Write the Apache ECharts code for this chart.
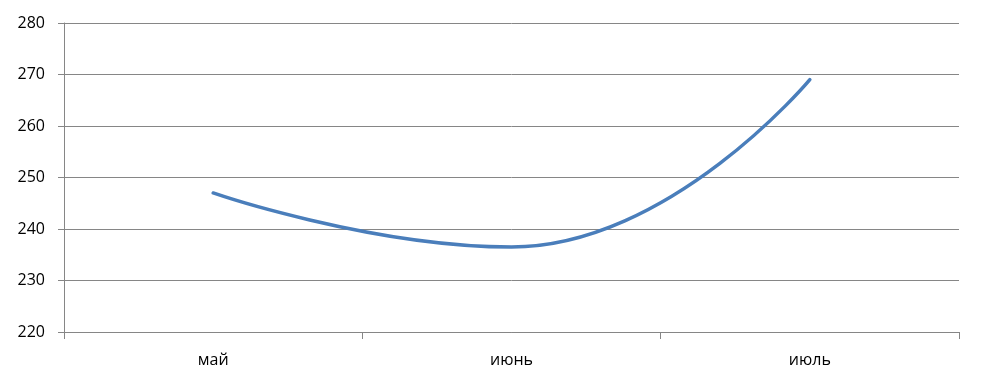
<!DOCTYPE html>
<html>
<head>
<meta charset="utf-8">
<script src="https://cdn.jsdelivr.net/npm/echarts@6/dist/echarts.min.js"></script>
<style>html,body{margin:0;padding:0;background:#fff}#c{width:983px;height:385px}</style>
</head>
<body>
<div id="c"></div>
<script>
const categories = ['май', 'июнь', 'июль'];
const values = [247, 236.5, 269];
const yMin = 220, yMax = 280, yStep = 10;

const chart = echarts.init(document.getElementById('c'), null, {renderer: 'canvas'});
chart.setOption({
  animation: false,
  backgroundColor: '#ffffff',
  grid: {left: 64, right: 24, top: 23, bottom: 53, containLabel: false},
  xAxis: {
    type: 'category',
    data: categories,
    boundaryGap: true,
    axisLine: {lineStyle: {color: '#868686', width: 1}},
    axisTick: {show: true, length: 7, alignWithLabel: false, lineStyle: {color: '#868686'}},
    axisLabel: {color: '#000', fontFamily: 'Open Sans', fontSize: 16, margin: 20},
    splitLine: {show: false}
  },
  yAxis: {
    type: 'value',
    min: yMin, max: yMax, interval: yStep,
    axisLine: {show: true, lineStyle: {color: '#868686', width: 1}},
    axisTick: {show: true, length: 6, lineStyle: {color: '#868686'}},
    axisLabel: {color: '#000', fontFamily: 'Open Sans', fontSize: 16, margin: 19},
    splitLine: {show: true, lineStyle: {color: '#868686', width: 1}}
  },
  series: [{
    type: 'line',
    data: values,
    smooth: 0.5,
    showSymbol: false,
    symbol: 'none',
    lineStyle: {color: '#4a7ebb', width: 3.5, cap: 'round'}
  }]
});
</script>
</body>
</html>
